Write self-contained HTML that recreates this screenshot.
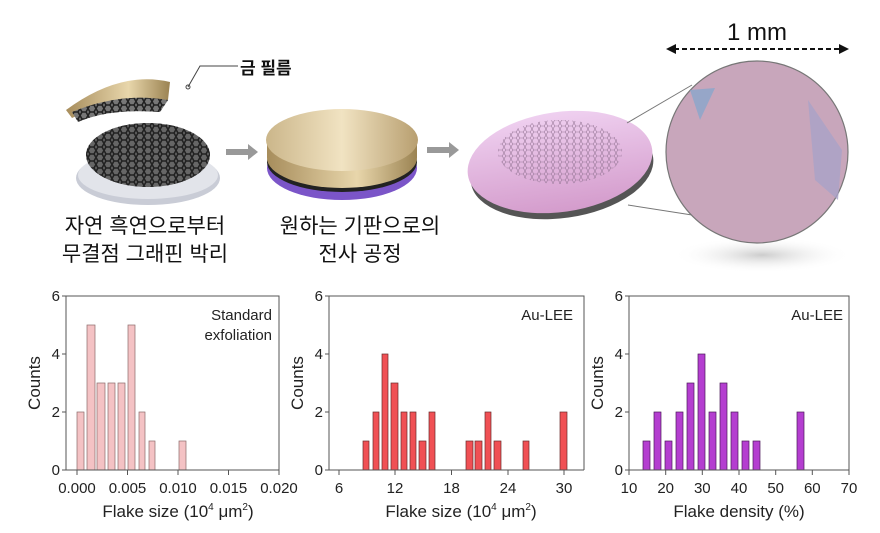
<!DOCTYPE html>
<html><head><meta charset="utf-8"><style>
html,body{margin:0;padding:0;background:#fff;}
svg{display:block;font-family:"Liberation Sans","Noto Sans CJK KR",sans-serif;}
</style></head><body>
<svg width="880" height="533" viewBox="0 0 880 533" xmlns="http://www.w3.org/2000/svg">
<defs>
<linearGradient id="gold" x1="0" x2="1"><stop offset="0" stop-color="#cbb68a"/><stop offset=".5" stop-color="#f1e3c2"/><stop offset="1" stop-color="#b89f70"/></linearGradient>
<linearGradient id="goldside" x1="0" x2="1"><stop offset="0" stop-color="#a78d5c"/><stop offset=".6" stop-color="#e8d6ab"/><stop offset="1" stop-color="#9b8352"/></linearGradient>
<linearGradient id="pinkw" x1="0" y1="0" x2="0" y2="1"><stop offset="0" stop-color="#efd0f0"/><stop offset="1" stop-color="#d49ccc"/></linearGradient>
<pattern id="hex" width="8" height="7" patternUnits="userSpaceOnUse"><path d="M0 3.5 L2 0 L6 0 L8 3.5 L6 7 L2 7 Z" fill="none" stroke="#222" stroke-width="1.6"/></pattern>
<pattern id="hexl" width="7" height="6" patternUnits="userSpaceOnUse"><path d="M0 3 L1.8 0 L5.2 0 L7 3 L5.2 6 L1.8 6 Z" fill="none" stroke="#9a7a9a" stroke-width=".6"/></pattern>
<radialGradient id="shad" cx=".5" cy=".5" r=".5"><stop offset="0" stop-color="#ccc"/><stop offset="1" stop-color="#fff" stop-opacity="0"/></radialGradient>
</defs>

<ellipse cx="148" cy="178" rx="72" ry="27" fill="#c9ccd6"/>
<ellipse cx="148" cy="175" rx="70" ry="24" fill="#e2e4ea"/>
<ellipse cx="148" cy="155" rx="62" ry="32" fill="#666"/>
<ellipse cx="148" cy="155" rx="62" ry="32" fill="url(#hex)"/>
<path d="M66 110 Q120 70 170 82 L168 100 Q120 96 72 118 Z" fill="url(#goldside)"/>
<path d="M72 112 Q120 92 168 100 L160 112 Q110 108 78 122 Z" fill="#777"/>
<path d="M72 112 Q120 92 168 100 L160 112 Q110 108 78 122 Z" fill="url(#hex)"/>
<polyline points="188,87 200,66 238,66" fill="none" stroke="#444" stroke-width="1"/>
<circle cx="188" cy="87" r="2" fill="none" stroke="#444"/>
<text x="240" y="74" font-size="17" font-weight="bold" fill="#111">금 필름</text>
<text x="145" y="233" font-size="21" text-anchor="middle" fill="#111">자연 흑연으로부터</text>
<text x="145" y="261" font-size="21" text-anchor="middle" fill="#111">무결점 그래핀 박리</text>

<rect x="226" y="149" width="22" height="6" fill="#999"/><polygon points="248,144 258,152 248,160" fill="#999"/>
<rect x="427" y="147" width="22" height="6" fill="#999"/><polygon points="449,142 459,150 449,158" fill="#999"/>

<ellipse cx="342" cy="168" rx="75" ry="32" fill="#7b55c8"/>
<ellipse cx="342" cy="162" rx="75" ry="30" fill="#222"/>
<path d="M267 140 L267 158 A75 30 0 0 0 417 158 L417 140 Z" fill="url(#goldside)"/>
<ellipse cx="342" cy="140" rx="76" ry="31" fill="url(#gold)"/>
<text x="360" y="233" font-size="21" text-anchor="middle" fill="#111">원하는 기판으로의</text>
<text x="360" y="261" font-size="21" text-anchor="middle" fill="#111">전사 공정</text>

<ellipse cx="562" cy="170" rx="92" ry="48" fill="#555" transform="rotate(-8 562 170)"/>
<ellipse cx="560" cy="162" rx="93" ry="50" fill="url(#pinkw)" transform="rotate(-8 560 162)"/>
<ellipse cx="560" cy="152" rx="62" ry="32" fill="url(#hexl)"/>
<line x1="627" y1="123" x2="692" y2="85" stroke="#777" stroke-width="1"/>
<line x1="628" y1="205" x2="692" y2="215" stroke="#777" stroke-width="1"/>

<ellipse cx="762" cy="255" rx="90" ry="18" fill="url(#shad)"/>
<circle cx="757" cy="152" r="91" fill="#c8a6bb" stroke="#777" stroke-width="1.2"/>
<path d="M690 90 L715 88 L700 120 Z" fill="#8aa6cc" opacity=".8"/>
<path d="M808 100 L842 150 L838 200 L815 180 Z" fill="#a9a2c8" opacity=".8"/>
<text x="757" y="40" font-size="24" text-anchor="middle" fill="#111">1 mm</text>
<line x1="674" y1="49" x2="840" y2="49" stroke="#111" stroke-width="2" stroke-dasharray="5,3"/>
<polygon points="666,49 676,44 676,54" fill="#111"/><polygon points="849,49 839,44 839,54" fill="#111"/>

<g font-size="15" fill="#222">
<g fill="#f4c2c4" stroke="#8a6a6a" stroke-width=".7">
<rect x="77" y="412" width="7" height="58"/><rect x="87" y="325" width="8" height="145"/>
<rect x="97" y="383" width="8" height="87"/><rect x="108" y="383" width="7" height="87"/>
<rect x="118" y="383" width="7" height="87"/><rect x="128" y="325" width="7" height="145"/>
<rect x="139" y="412" width="6" height="58"/><rect x="149" y="441" width="6" height="29"/>
<rect x="179" y="441" width="7" height="29"/></g>
<path d="M66 296 H279 V470 M66 296 V470 H279" fill="none" stroke="#555" stroke-width="1"/>
<g stroke="#555"><line x1="62" y1="296" x2="66" y2="296"/><line x1="62" y1="354" x2="66" y2="354"/><line x1="62" y1="412" x2="66" y2="412"/><line x1="62" y1="470" x2="66" y2="470"/>
<line x1="77" y1="470" x2="77" y2="475"/><line x1="127.5" y1="470" x2="127.5" y2="475"/><line x1="178" y1="470" x2="178" y2="475"/><line x1="228.5" y1="470" x2="228.5" y2="475"/><line x1="279" y1="470" x2="279" y2="475"/></g>
<g text-anchor="end"><text x="60" y="301">6</text><text x="60" y="359">4</text><text x="60" y="417">2</text><text x="60" y="475">0</text></g>
<g text-anchor="middle"><text x="77" y="493">0.000</text><text x="127.5" y="493">0.005</text><text x="178" y="493">0.010</text><text x="228.5" y="493">0.015</text><text x="279" y="493">0.020</text>
<text x="178" y="517" font-size="17">Flake size (10<tspan font-size="10" dy="-7">4</tspan><tspan dy="7"> μm</tspan><tspan font-size="10" dy="-7">2</tspan><tspan dy="7">)</tspan></text></g>
<text x="272" y="320" text-anchor="end">Standard</text><text x="272" y="340" text-anchor="end">exfoliation</text>
<text transform="translate(40 383) rotate(-90)" text-anchor="middle" font-size="17">Counts</text>
</g>

<g font-size="15" fill="#222">
<g fill="#f05054" stroke="#6a2a2a" stroke-width=".7">
<rect x="363" y="441" width="6" height="29"/><rect x="373" y="412" width="6" height="58"/>
<rect x="382" y="354" width="6" height="116"/><rect x="391" y="383" width="7" height="87"/>
<rect x="401" y="412" width="6" height="58"/><rect x="410" y="412" width="6" height="58"/>
<rect x="419" y="441" width="7" height="29"/><rect x="429" y="412" width="6" height="58"/>
<rect x="466" y="441" width="7" height="29"/><rect x="475" y="441" width="7" height="29"/>
<rect x="485" y="412" width="6" height="58"/><rect x="494" y="441" width="7" height="29"/>
<rect x="523" y="441" width="6" height="29"/><rect x="560" y="412" width="7" height="58"/></g>
<path d="M329 296 H584 V470 M329 296 V470 H584" fill="none" stroke="#555" stroke-width="1"/>
<g stroke="#555"><line x1="325" y1="296" x2="329" y2="296"/><line x1="325" y1="354" x2="329" y2="354"/><line x1="325" y1="412" x2="329" y2="412"/><line x1="325" y1="470" x2="329" y2="470"/>
<line x1="339" y1="470" x2="339" y2="475"/><line x1="395" y1="470" x2="395" y2="475"/><line x1="451.5" y1="470" x2="451.5" y2="475"/><line x1="508" y1="470" x2="508" y2="475"/><line x1="564" y1="470" x2="564" y2="475"/></g>
<g text-anchor="end"><text x="323" y="301">6</text><text x="323" y="359">4</text><text x="323" y="417">2</text><text x="323" y="475">0</text></g>
<g text-anchor="middle"><text x="339" y="493">6</text><text x="395" y="493">12</text><text x="451.5" y="493">18</text><text x="508" y="493">24</text><text x="564" y="493">30</text>
<text x="461" y="517" font-size="17">Flake size (10<tspan font-size="10" dy="-7">4</tspan><tspan dy="7"> μm</tspan><tspan font-size="10" dy="-7">2</tspan><tspan dy="7">)</tspan></text></g>
<text x="573" y="320" text-anchor="end">Au-LEE</text>
<text transform="translate(303 383) rotate(-90)" text-anchor="middle" font-size="17">Counts</text>
</g>

<g font-size="15" fill="#222">
<g fill="#b43ed0" stroke="#4a1a5a" stroke-width=".7">
<rect x="643" y="441" width="7" height="29"/><rect x="654" y="412" width="7" height="58"/>
<rect x="665" y="441" width="7" height="29"/><rect x="676" y="412" width="7" height="58"/>
<rect x="687" y="383" width="7" height="87"/><rect x="698" y="354" width="7" height="116"/>
<rect x="709" y="412" width="7" height="58"/><rect x="720" y="383" width="7" height="87"/>
<rect x="731" y="412" width="7" height="58"/><rect x="742" y="441" width="7" height="29"/>
<rect x="753" y="441" width="7" height="29"/><rect x="797" y="412" width="7" height="58"/></g>
<path d="M629 296 H849 V470 M629 296 V470 H849" fill="none" stroke="#555" stroke-width="1"/>
<g stroke="#555"><line x1="625" y1="296" x2="629" y2="296"/><line x1="625" y1="354" x2="629" y2="354"/><line x1="625" y1="412" x2="629" y2="412"/><line x1="625" y1="470" x2="629" y2="470"/>
<line x1="629" y1="470" x2="629" y2="475"/><line x1="665.7" y1="470" x2="665.7" y2="475"/><line x1="702.3" y1="470" x2="702.3" y2="475"/><line x1="739" y1="470" x2="739" y2="475"/><line x1="775.7" y1="470" x2="775.7" y2="475"/><line x1="812.3" y1="470" x2="812.3" y2="475"/><line x1="849" y1="470" x2="849" y2="475"/></g>
<g text-anchor="end"><text x="623" y="301">6</text><text x="623" y="359">4</text><text x="623" y="417">2</text><text x="623" y="475">0</text></g>
<g text-anchor="middle"><text x="629" y="493">10</text><text x="665.7" y="493">20</text><text x="702.3" y="493">30</text><text x="739" y="493">40</text><text x="775.7" y="493">50</text><text x="812.3" y="493">60</text><text x="849" y="493">70</text>
<text x="739" y="517" font-size="17">Flake density (%)</text></g>
<text x="843" y="320" text-anchor="end">Au-LEE</text>
<text transform="translate(603 383) rotate(-90)" text-anchor="middle" font-size="17">Counts</text>
</g>
</svg>
</body></html>
